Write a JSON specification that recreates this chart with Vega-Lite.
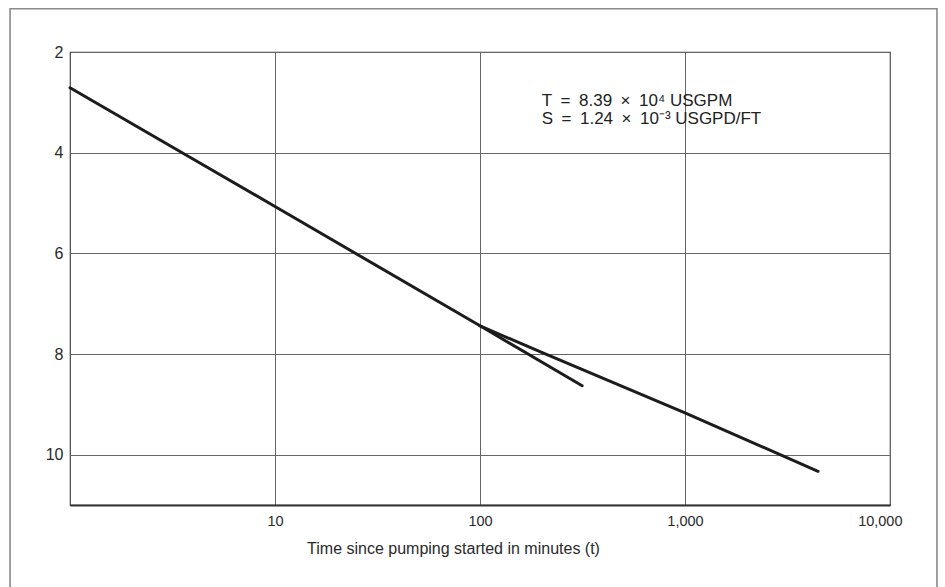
{
  "$schema": "https://vega.github.io/schema/vega-lite/v6.json",
  "width": 820,
  "height": 453,
  "autosize": {"type": "none"},
  "padding": {"left": 70, "top": 52, "right": 55, "bottom": 82},
  "background": "white",
  "config": {
    "view": {"stroke": "#444", "strokeWidth": 1.2},
    "font": "Liberation Sans"
  },
  "layer": [
    {
      "data": {"values": [{}]},
      "mark": {"type": "rect", "fill": null, "stroke": "#8a8a8a", "strokeWidth": 1.6, "clip": false},
      "encoding": {
        "x": {"datum": 0.51, "type": "quantitative"},
        "x2": {"datum": 16950},
        "y": {"datum": 1.14, "type": "quantitative"},
        "y2": {"datum": 13.5}
      }
    },
    {
      "data": {
        "values": [
          {"series": "a", "t": 1, "s": 2.71},
          {"series": "a", "t": 3.7, "s": 4.05},
          {"series": "a", "t": 10, "s": 5.07},
          {"series": "a", "t": 100, "s": 7.44},
          {"series": "a", "t": 315, "s": 8.63},
          {"series": "b", "t": 100, "s": 7.44},
          {"series": "b", "t": 200, "s": 7.97},
          {"series": "b", "t": 1000, "s": 9.17},
          {"series": "b", "t": 4456, "s": 10.33}
        ]
      },
      "mark": {"type": "line", "color": "#1c1c1c", "strokeWidth": 3, "strokeCap": "round"},
      "encoding": {
        "x": {
          "field": "t",
          "type": "quantitative",
          "scale": {"type": "log", "domain": [1, 10000], "nice": false},
          "axis": {
            "values": [10, 100, 1000, 10000],
            "format": ",",
            "grid": true,
            "gridColor": "#666",
            "gridWidth": 1,
            "ticks": false,
            "domain": true,
            "domainColor": "#333",
            "domainWidth": 2.2,
            "labelPadding": 9,
            "labelFontSize": 14.5,
            "labelColor": "#2a2a2a",
            "labelFlush": true,
            "labelFlushOffset": 12,
            "labelOverlap": false,
            "title": "Time since pumping started in minutes (t)",
            "titleFontSize": 16,
            "titleFontWeight": "normal",
            "titleColor": "#2a2a2a",
            "titlePadding": 13,
            "titleX": 383
          }
        },
        "y": {
          "field": "s",
          "type": "quantitative",
          "scale": {"domain": [2, 11], "reverse": true, "nice": false, "zero": false},
          "axis": {
            "values": [2, 4, 6, 8, 10],
            "grid": true,
            "gridColor": "#666",
            "gridWidth": 1,
            "ticks": false,
            "domain": false,
            "labelPadding": 7,
            "labelFontSize": 16,
            "labelColor": "#2a2a2a",
            "title": null
          }
        },
        "detail": {"field": "series"}
      }
    },
    {
      "data": {
        "values": [
          {"t": 200, "s": 2.98, "label": "T\u2002=\u20028.39\u2002×\u200210⁴ USGPM"},
          {"t": 200, "s": 3.33, "label": "S\u2002=\u20021.24\u2002×\u200210⁻³ USGPD/FT"}
        ]
      },
      "mark": {"type": "text", "align": "left", "baseline": "middle", "fontSize": 17, "color": "#222"},
      "encoding": {
        "x": {"field": "t", "type": "quantitative"},
        "y": {"field": "s", "type": "quantitative"},
        "text": {"field": "label"}
      }
    }
  ]
}
